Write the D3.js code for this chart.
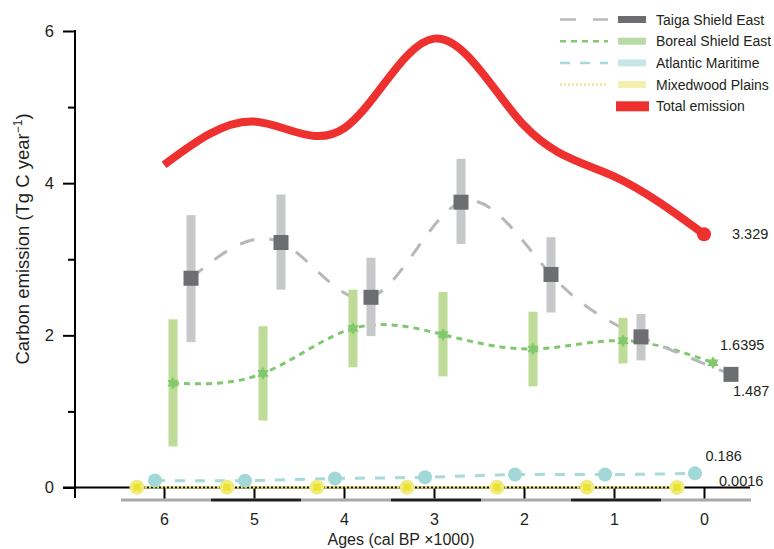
<!DOCTYPE html>
<html>
<head>
<meta charset="utf-8">
<script src="https://cdn.jsdelivr.net/npm/d3@7"></script>
<style>
  body { margin: 0; background: #fff; }
  text { font-family: "Liberation Sans", Arial, Helvetica, sans-serif; fill: #231f20; }
</style>
</head>
<body>
<svg id="chart" width="774" height="549"></svg>
<script>
// ages (cal BP x1000), oldest first
const ages = [6, 5, 4, 3, 2, 1, 0];

// Taiga Shield East
const taiga = [2.75, 3.22, 2.50, 3.75, 2.80, 1.98, 1.487];
const taigaHigh = [3.58, 3.85, 3.02, 4.32, 3.29, 2.28, null];
const taigaLow = [1.91, 2.60, 1.99, 3.20, 2.30, 1.67, null];

// Boreal Shield East
const boreal = [1.37, 1.50, 2.09, 2.01, 1.82, 1.93, 1.6395];
const borealHigh = [2.21, 2.12, 2.60, 2.57, 2.31, 2.23, null];
const borealLow = [0.54, 0.88, 1.58, 1.46, 1.33, 1.63, null];

// Atlantic Maritime, Mixedwood Plains
const atlantic = [0.092, 0.09, 0.118, 0.135, 0.17, 0.17, 0.186];
const mixedwood = [0.004, 0.003, 0.004, 0.004, 0.003, 0.003, 0.0016];

// Total emission
const total = [4.24, 4.81, 4.72, 5.90, 4.76, 4.09, 3.329];

const yMajor = [0, 2, 4, 6];
const yMinor = [1, 3, 5];

const svg = d3.select("#chart");

const x = d3.scalePoint().domain(ages).range([164, 704]);
const step = x.step();
const y = d3.scaleLinear().domain([0, 6]).range([487.5, 31]);

// hexagram marker for Boreal
const star6 = {
  draw(context, size) {
    const R = Math.sqrt(size) * 0.62, r = R * 0.58;
    for (let i = 0; i < 12; i++) {
      const a = Math.PI / 6 * i - Math.PI / 2;
      const rr = i % 2 ? r : R;
      if (i === 0) context.moveTo(rr * Math.cos(a), rr * Math.sin(a));
      else context.lineTo(rr * Math.cos(a), rr * Math.sin(a));
    }
    context.closePath();
  }
};

// each region sits at a small offset inside its age group
const series = [
  { name: "Mixedwood Plains", values: mixedwood, dx: -27, line: "#f2e23c", dash: "2,2", width: 2.5, patch: "#f1f0ad", legendLine: "#f9e39b" },
  { name: "Atlantic Maritime", values: atlantic, dx: -9, line: "#a8dada", dash: "10,10", width: 3, patch: "#c5e6e5", legendLine: "#a8dada" },
  { name: "Boreal Shield East", values: boreal, dx: 9, line: "#7fc86f", dash: "6,5", width: 3, patch: "#b9dca6", legendLine: "#84c874",
    high: borealHigh, low: borealLow, bar: "#bedc97" },
  { name: "Taiga Shield East", values: taiga, dx: 27, line: "#b6b8bb", dash: "15,15", width: 3, patch: "#6d6e71", legendLine: "#b8babc",
    high: taigaHigh, low: taigaLow, bar: "#c7c8ca" }
];

// alternating grey / black band under the x axis
svg.append("g")
  .selectAll("rect")
  .data(ages)
  .join("rect")
  .attr("x", d => x(d) - step / 2 + 2)
  .attr("y", 498.5)
  .attr("width", step)
  .attr("height", 3)
  .attr("fill", (d, i) => i % 2 ? "#231f20" : "#a7a9ac");

// x axis
const xAxis = svg.append("g")
  .attr("transform", `translate(0, ${y(0)})`)
  .call(d3.axisBottom(x).tickSize(11).tickSizeOuter(0).tickPadding(22));
xAxis.select(".domain").remove();
xAxis.selectAll(".tick line").attr("stroke", "#000").attr("stroke-width", 2);
xAxis.selectAll(".tick text").attr("font-size", 16).attr("fill", "#231f20").attr("dy", "0.3em");
svg.append("line")
  .attr("x1", 63).attr("x2", 750)
  .attr("y1", y(0)).attr("y2", y(0))
  .attr("stroke", "#000").attr("stroke-width", 2);

// y axis, major and minor ticks
const yAxis = svg.append("g")
  .attr("transform", "translate(75, 0)")
  .call(d3.axisLeft(y).tickValues(yMajor).tickSize(12).tickSizeOuter(0).tickPadding(9).tickFormat(d3.format("d")));
yAxis.select(".domain").remove();
yAxis.selectAll(".tick line").attr("stroke", "#000").attr("stroke-width", 2);
yAxis.selectAll(".tick text").attr("font-size", 16.5).attr("fill", "#231f20");

const yMinorAxis = svg.append("g")
  .attr("transform", "translate(75, 0)")
  .call(d3.axisLeft(y).tickValues(yMinor).tickSize(7).tickSizeOuter(0).tickFormat(""));
yMinorAxis.select(".domain").remove();
yMinorAxis.selectAll(".tick line").attr("stroke", "#000").attr("stroke-width", 2);

svg.append("line")
  .attr("x1", 75).attr("x2", 75)
  .attr("y1", y(6) - 1).attr("y2", 498)
  .attr("stroke", "#000").attr("stroke-width", 2);

// axis titles
svg.append("text")
  .attr("x", 401).attr("y", 545)
  .attr("text-anchor", "middle")
  .attr("font-size", 16)
  .text("Ages (cal BP \u00d71000)");

const yTitle = svg.append("text")
  .attr("transform", "translate(29, 239) rotate(-90)")
  .attr("text-anchor", "middle")
  .attr("font-size", 18.5);
yTitle.append("tspan").text("Carbon emission (Tg C year");
yTitle.append("tspan").attr("font-size", 12).attr("dy", "-0.55em").text("\u22121");
yTitle.append("tspan").attr("dy", "0.35em").text(")");

// dashed region lines
const curve = d3.line()
  .x((d, i) => x(ages[i]))
  .y(d => y(d))
  .curve(d3.curveNatural);

series.forEach(s => {
  svg.append("path")
    .datum(s.values)
    .attr("fill", "none")
    .attr("stroke", s.line)
    .attr("stroke-width", s.width)
    .attr("stroke-dasharray", s.dash)
    .attr("transform", `translate(${s.dx}, 0)`)
    .attr("d", curve);
});

// error bars
series.filter(s => s.high).forEach(s => {
  svg.append("g")
    .selectAll("rect")
    .data(ages.map((a, i) => ({ a, hi: s.high[i], lo: s.low[i] })).filter(d => d.hi != null))
    .join("rect")
    .attr("x", d => x(d.a) + s.dx - 4.5)
    .attr("y", d => y(d.hi))
    .attr("width", 9)
    .attr("height", d => y(d.lo) - y(d.hi))
    .attr("fill", s.bar);
});

// markers
svg.append("g")
  .selectAll("circle")
  .data(mixedwood)
  .join("circle")
  .attr("cx", (d, i) => x(ages[i]) - 27)
  .attr("cy", d => y(d))
  .attr("r", 7.5)
  .attr("fill", "#f0eb80");
svg.append("g")
  .selectAll("rect")
  .data(mixedwood)
  .join("rect")
  .attr("x", (d, i) => x(ages[i]) - 27 - 3.5)
  .attr("y", d => y(d) - 3.5)
  .attr("width", 7).attr("height", 7)
  .attr("fill", "#ebe32e");

svg.append("g")
  .selectAll("circle")
  .data(atlantic)
  .join("circle")
  .attr("cx", (d, i) => x(ages[i]) - 9)
  .attr("cy", d => y(d))
  .attr("r", 7)
  .attr("fill", "#a2d8d8");

svg.append("g")
  .selectAll("path")
  .data(boreal)
  .join("path")
  .attr("transform", (d, i) => `translate(${x(ages[i]) + 9}, ${y(d)})`)
  .attr("d", d3.symbol().type(star6).size(110))
  .attr("fill", "#82c96d");

svg.append("g")
  .selectAll("rect")
  .data(taiga)
  .join("rect")
  .attr("x", (d, i) => x(ages[i]) + 27 - 7.5)
  .attr("y", d => y(d) - 7.5)
  .attr("width", 15).attr("height", 15)
  .attr("fill", "#6d6e71");

// total emission
svg.append("path")
  .datum(total)
  .attr("fill", "none")
  .attr("stroke", "#ee302e")
  .attr("stroke-width", 8)
  .attr("d", curve);
svg.append("circle")
  .attr("cx", x(ages[ages.length - 1]))
  .attr("cy", y(total[total.length - 1]))
  .attr("r", 7)
  .attr("fill", "#ee302e");

// end value labels
const last = ages.length - 1;
const endLabels = [
  { v: total[last], dx: 28, dy: 5 },
  { v: boreal[last], dx: 16, dy: -13 },
  { v: taiga[last], dx: 29, dy: 22 },
  { v: atlantic[last], dx: 1.5, dy: -12 },
  { v: mixedwood[last], dx: 15, dy: -1.5 }
];
svg.append("g")
  .selectAll("text")
  .data(endLabels)
  .join("text")
  .attr("x", d => x(ages[last]) + d.dx)
  .attr("y", d => y(d.v) + d.dy)
  .attr("font-size", 14.5)
  .text(d => String(d.v));

// legend
const legendRows = [series[3], series[2], series[1], series[0]];
const legend = svg.append("g");
legendRows.forEach((s, i) => {
  const ly = 19.5 + i * 21.7;
  legend.append("line")
    .attr("x1", 560).attr("x2", 608)
    .attr("y1", ly).attr("y2", ly)
    .attr("stroke", s.legendLine)
    .attr("stroke-width", 2.5)
    .attr("stroke-dasharray", i === 0 ? "16,17" : s.dash);
  legend.append("rect")
    .attr("x", 618).attr("y", ly - 3.5)
    .attr("width", 28).attr("height", 7)
    .attr("fill", s.patch);
  legend.append("text")
    .attr("x", 656).attr("y", ly)
    .attr("dy", "0.36em")
    .attr("font-size", 14)
    .text(s.name);
});
const ty = 19.5 + 4 * 21.7;
legend.append("rect")
  .attr("x", 616).attr("y", ty - 5)
  .attr("width", 33).attr("height", 10)
  .attr("fill", "#ee302e");
legend.append("text")
  .attr("x", 656).attr("y", ty)
  .attr("dy", "0.36em")
  .attr("font-size", 14)
  .text("Total emission");
</script>
</body>
</html>
